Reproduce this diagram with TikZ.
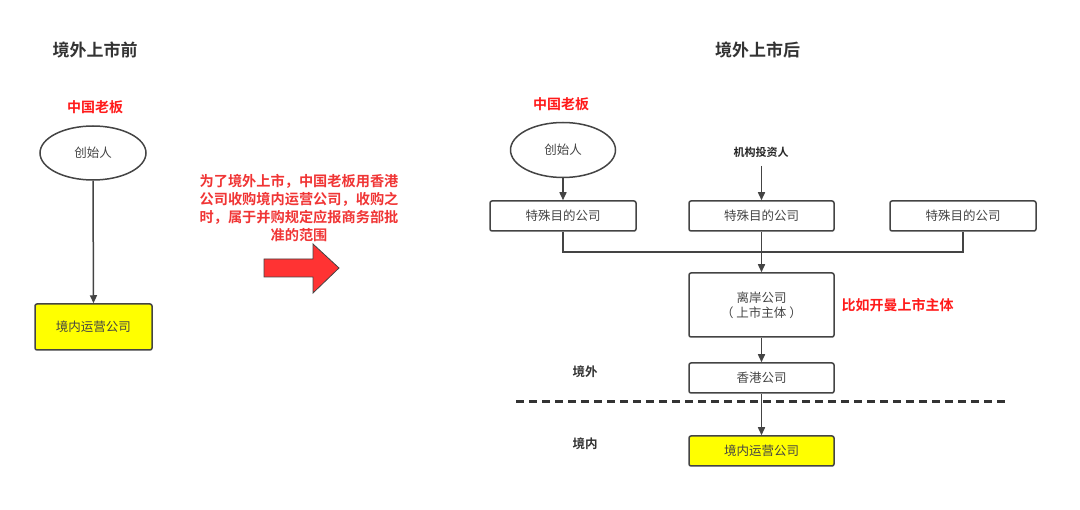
\documentclass[tikz,border=0pt]{standalone}
\usepackage{fontspec}
\setmainfont{Noto Sans CJK SC}[BoldFont={Noto Sans CJK SC Bold}]
\usetikzlibrary{arrows.meta,shapes.geometric}
\definecolor{linegray}{HTML}{444444}
\definecolor{txtgray}{HTML}{444444}
\definecolor{titlegray}{HTML}{333333}
\definecolor{boxyellow}{HTML}{FFFF00}
\definecolor{redtxt}{HTML}{FF1A1A}
\definecolor{redblock}{HTML}{F03535}
\definecolor{arrowred}{HTML}{FF3333}
\tikzset{
  title/.style={font=\bfseries\fontsize{17}{19}\selectfont, text=titlegray},
  boss/.style={font=\bfseries\fontsize{14}{16}\selectfont, text=redtxt},
  person/.style={draw=linegray, line width=1.5pt, ellipse, inner sep=0pt, font=\fontsize{12.5}{14}\selectfont, text=txtgray},
  cbox/.style={draw=linegray, line width=1.5pt, rounded corners=2pt, inner sep=0pt, font=\fontsize{12.5}{15}\selectfont, text=txtgray, align=center},
  ybox/.style={cbox, fill=boxyellow},
  side/.style={font=\bfseries\fontsize{12.5}{14}\selectfont, text=titlegray},
  conn/.style={draw=linegray, line width=1.5pt},
  arr/.style={conn, -{Triangle[length=8pt,width=7pt]}},
}
\begin{document}
\begin{tikzpicture}[x=1pt,y=-1pt]
\useasboundingbox (0,0) rectangle (1080,510);

% ---------- left part ----------
\node[title] (t1) at (95,50) {境外上市前};
\node[boss] (b1) at (95,107) {中国老板};
\node[person, minimum width=106pt, minimum height=54pt] (f1) at (93,153) {创始人};
\node[ybox, minimum width=117pt, minimum height=46pt] (y1) at (93.5,327) {境内运营公司};
\draw[arr] (f1.south) -- (y1.north);

% ---------- middle ----------
\node[font=\bfseries\fontsize{14.2}{18}\selectfont, text=redblock, align=center] (note) at (299,208)
  {为了境外上市，中国老板用香港\\公司收购境内运营公司，收购之\\时，属于并购规定应报商务部批\\准的范围};
\draw[draw=linegray, line width=0.8pt, fill=arrowred]
  (264,259) -- (313,259) -- (313,244) -- (339,268) -- (313,293) -- (313,277) -- (264,277) -- cycle;

% ---------- right part ----------
\node[title] (t2) at (757.5,50) {境外上市后};
\node[boss] (b2) at (561,104) {中国老板};
\node[person, minimum width=105pt, minimum height=55pt] (f2) at (563,150) {创始人};
\node[font=\bfseries\fontsize{11}{13}\selectfont, text=black!85] (inv) at (761,152) {机构投资人};

\node[cbox, minimum width=146pt, minimum height=30pt] (s1) at (563,216) {特殊目的公司};
\node[cbox, minimum width=145pt, minimum height=30pt] (s2) at (761.5,216) {特殊目的公司};
\node[cbox, minimum width=146pt, minimum height=30pt] (s3) at (963,216) {特殊目的公司};

\node[cbox, minimum width=145pt, minimum height=64pt] (off) at (761.5,305) {离岸公司\\（ 上市主体 ）};
\node[boss, anchor=west] (cay) at (838,305) {比如开曼上市主体};

\node[cbox, minimum width=145pt, minimum height=30pt] (hk) at (761.5,378) {香港公司};
\node[ybox, minimum width=145pt, minimum height=30pt] (y2) at (761.5,451) {境内运营公司};

\node[side] (out) at (585,372) {境外};
\node[side] (in) at (585,444) {境内};

\coordinate (invtop) at (761.5,166);
\coordinate (dl) at (516,402);
\coordinate (dr) at (1008,402);

\draw[arr] (f2.south) -- (s1.north);
\draw[arr] (invtop) -- (s2.north);
\draw[conn] (s1.south) |- (s3.south |- 0,252) -- (s3.south);
\draw[arr] (s2.south) -- (off.north);
\draw[arr] (off.south) -- (hk.north);
\draw[draw=titlegray, line width=3pt, dash pattern=on 8pt off 5pt] (dl) -- (dr);
\draw[arr] (hk.south) -- (y2.north);
\end{tikzpicture}
\end{document}
